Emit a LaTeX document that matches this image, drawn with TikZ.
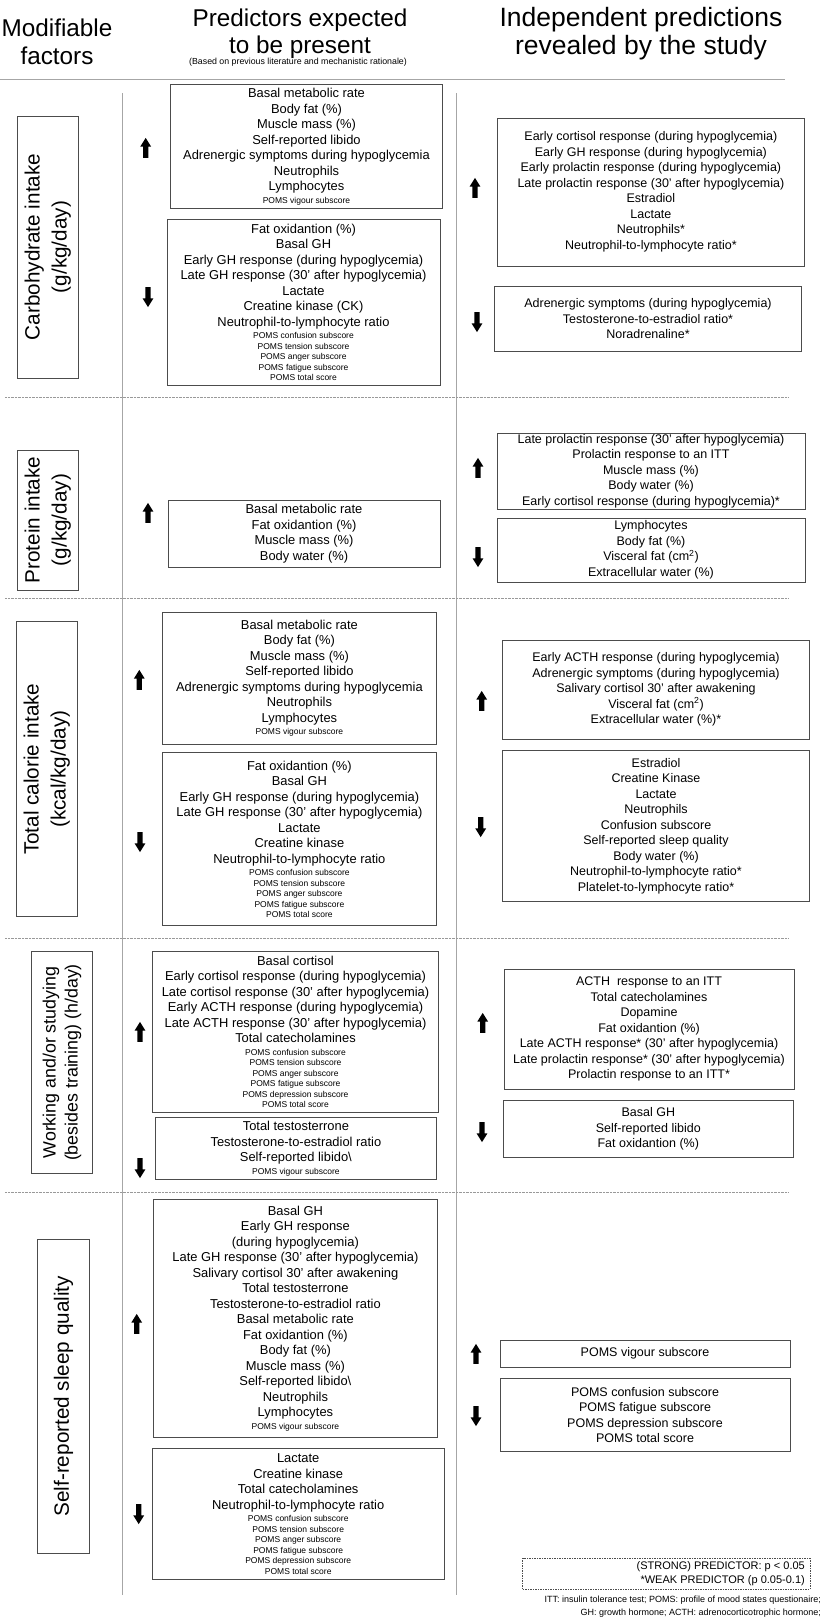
\documentclass[tikz,border=0pt]{standalone}
\usepackage{fontspec}
\setmainfont{Liberation Sans}
\usetikzlibrary{shapes.arrows,positioning}

\newcommand{\sm}{\fontsize{8.5}{10.5}\selectfont}

\tikzset{
  factbox/.style={draw=black!70, line width=0.9pt, inner sep=0pt, rotate=90, align=center,
    font=\fontsize{20.7}{27}\selectfont},
  predbox/.style={draw=black!70, line width=0.9pt, inner sep=0pt, align=center,
    font=\fontsize{12.9}{15.5}\selectfont},
  studybox/.style={predbox, font=\fontsize{12.5}{15.5}\selectfont},
  uparr/.style={single arrow, fill=black, draw=none, rotate=90, minimum height=20pt,
    inner sep=2.4pt, single arrow head extend=2.8pt, single arrow tip angle=64},
  downarr/.style={uparr, rotate=180},
  header/.style={align=center, font=\fontsize{24.3}{27}\selectfont},
  colsep/.style={draw=black!35, line width=1pt},
  rowsep/.style={draw=black!40, line width=0.6pt, dash pattern=on 0.6pt off 0.8pt},
}

\begin{document}
\begin{tikzpicture}[x=1pt, y=-1pt]
\useasboundingbox (0,0) rectangle (822,1623);

% headers
\node[header, font=\fontsize{24.3}{28}\selectfont] (hmod) at (57,42) {Modifiable\\factors};
\node[header] (hexp) at (300,33.5) {Predictors expected\\to be present};
\node[font=\fontsize{8.8}{10}\selectfont] (hnote) at (298,62) {(Based on previous literature and mechanistic rationale)};
\node[header, font=\fontsize{26.5}{28}\selectfont] (hind) at (641,33.5) {Independent predictions\\revealed by the study};
\draw[colsep] (0,79) -- (785,79);

% column and row separators
\draw[colsep] (122,93) -- (122,1595);
\draw[colsep] (456,93) -- (456,1595);
\draw[rowsep] (5,397) -- (788,397);
\draw[rowsep] (5,598) -- (788,598);
\draw[rowsep] (5,938) -- (788,938);
\draw[rowsep] (5,1192) -- (788,1192);

% carbohydrate intake
\node[factbox, minimum width=262pt, minimum height=61pt] (fcarb) at (47.8,247) {Carbohydrate intake\\(g/kg/day)};
\node[predbox, minimum width=271.6pt, minimum height=123.6pt] (carbup) at (306.5,146.5)
  {Basal metabolic rate\\Body fat (\%)\\Muscle mass (\%)\\Self-reported libido\\Adrenergic symptoms during hypoglycemia\\Neutrophils\\Lymphocytes\\[-3pt]\sm POMS vigour subscore};
\node[predbox, minimum width=273pt, minimum height=166.7pt] (carbdown) at (303.5,302.4)
  {Fat oxidantion (\%)\\Basal GH\\Early GH response (during hypoglycemia)\\Late GH response (30' after hypoglycemia)\\Lactate\\Creatine kinase (CK)\\Neutrophil-to-lymphocyte ratio\\[-3pt]\sm POMS confusion subscore\\[-5pt]\sm POMS tension subscore\\[-5pt]\sm POMS anger subscore\\[-5pt]\sm POMS fatigue subscore\\[-5pt]\sm POMS total score};
\node[uparr] (carbupa) at (145.7,150) {};
\node[downarr] (carbdowna) at (148,295) {};
\node[studybox, minimum width=306.3pt, minimum height=148pt] (carbres) at (650.9,192)
  {Early cortisol response (during hypoglycemia)\\Early GH response (during hypoglycemia)\\Early prolactin response (during hypoglycemia)\\Late prolactin response (30' after hypoglycemia)\\Estradiol\\Lactate\\Neutrophils*\\Neutrophil-to-lymphocyte ratio*};
\node[studybox, minimum width=306.6pt, minimum height=65.7pt] (carbresd) at (648,318.9)
  {Adrenergic symptoms (during hypoglycemia)\\Testosterone-to-estradiol ratio*\\Noradrenaline*};
\node[uparr] (carbresa) at (475,190) {};
\node[downarr] (carbresda) at (477,320) {};

% protein intake
\node[factbox, minimum width=140pt, minimum height=61pt] (fprot) at (47.8,520) {Protein intake\\(g/kg/day)};
\node[predbox, minimum width=272pt, minimum height=67pt] (protup) at (304,533.5)
  {Basal metabolic rate\\Fat oxidantion (\%)\\Muscle mass (\%)\\Body water (\%)};
\node[uparr] (protupa) at (148,515) {};
\node[studybox, minimum width=308pt, minimum height=76pt] (protres) at (651,471)
  {Late prolactin response (30' after hypoglycemia)\\Prolactin response to an ITT\\Muscle mass (\%)\\Body water (\%)\\Early cortisol response (during hypoglycemia)*};
\node[studybox, minimum width=308pt, minimum height=64pt] (protresd) at (651,550)
  {Lymphocytes\\Body fat (\%)\\Visceral fat (cm\textsuperscript{2})\\Extracellular water (\%)};
\node[uparr] (protresa) at (478,470) {};
\node[downarr] (protresda) at (478,555) {};

% total calorie intake
\node[factbox, minimum width=295pt, minimum height=61.3pt] (fcal) at (46.7,769.2) {Total calorie intake\\(kcal/kg/day)};
\node[predbox, minimum width=274.7pt, minimum height=132.3pt] (calup) at (299.4,678.2)
  {Basal metabolic rate\\Body fat (\%)\\Muscle mass (\%)\\Self-reported libido\\Adrenergic symptoms during hypoglycemia\\Neutrophils\\Lymphocytes\\[-3pt]\sm POMS vigour subscore};
\node[predbox, minimum width=274.7pt, minimum height=173pt] (caldown) at (299.4,839.2)
  {Fat oxidantion (\%)\\Basal GH\\Early GH response (during hypoglycemia)\\Late GH response (30' after hypoglycemia)\\Lactate\\Creatine kinase\\Neutrophil-to-lymphocyte ratio\\[-3pt]\sm POMS confusion subscore\\[-5pt]\sm POMS tension subscore\\[-5pt]\sm POMS anger subscore\\[-5pt]\sm POMS fatigue subscore\\[-5pt]\sm POMS total score};
\node[uparr] (calupa) at (139.3,682) {};
\node[downarr] (caldowna) at (140,840) {};
\node[studybox, minimum width=306.6pt, minimum height=99pt] (calres) at (656,689.5)
  {Early ACTH response (during hypoglycemia)\\Adrenergic symptoms (during hypoglycemia)\\Salivary cortisol 30' after awakening\\Visceral fat (cm\textsuperscript{2})\\Extracellular water (\%)*};
\node[studybox, minimum width=306.6pt, minimum height=151pt] (calresd) at (656,826.2)
  {Estradiol\\Creatine Kinase\\Lactate\\Neutrophils\\Confusion subscore\\Self-reported sleep quality\\Body water (\%)\\Neutrophil-to-lymphocyte ratio*\\Platelet-to-lymphocyte ratio*};
\node[uparr] (calresa) at (481.7,703) {};
\node[downarr] (calresda) at (480.7,825) {};

% working and/or studying
\node[factbox, minimum width=221.6pt, minimum height=60.6pt, font=\fontsize{17.8}{22}\selectfont] (fwork) at (62,1062.5) {Working and/or studying\\(besides training) (h/day)};
\node[predbox, minimum width=285.6pt, minimum height=160.6pt] (workup) at (295.5,1032)
  {Basal cortisol\\Early cortisol response (during hypoglycemia)\\Late cortisol response (30' after hypoglycemia)\\Early ACTH response (during hypoglycemia)\\Late ACTH response (30' after hypoglycemia)\\Total catecholamines\\[-3pt]\sm POMS confusion subscore\\[-5pt]\sm POMS tension subscore\\[-5pt]\sm POMS anger subscore\\[-5pt]\sm POMS fatigue subscore\\[-5pt]\sm POMS depression subscore\\[-5pt]\sm POMS total score};
\node[predbox, minimum width=281.7pt, minimum height=61.6pt] (workdown) at (295.9,1148.5)
  {Total testosterrone\\Testosterone-to-estradiol ratio\\Self-reported libido\textbackslash\\[-3pt]\sm POMS vigour subscore};
\node[uparr] (workupa) at (140,1034) {};
\node[downarr] (workdowna) at (140,1166) {};
\node[studybox, minimum width=290pt, minimum height=119.7pt] (workres) at (649,1029.2)
  {ACTH\ \ response to an ITT\\Total catecholamines\\Dopamine\\Fat oxidantion (\%)\\Late ACTH response* (30' after hypoglycemia)\\Late prolactin response* (30' after hypoglycemia)\\Prolactin response to an ITT*};
\node[studybox, minimum width=290pt, minimum height=57.7pt] (workresd) at (648.3,1128.9)
  {Basal GH\\Self-reported libido\\Fat oxidantion (\%)};
\node[uparr] (workresa) at (482.7,1025) {};
\node[downarr] (workresda) at (482,1130) {};

% self-reported sleep quality
\node[factbox, minimum width=314.3pt, minimum height=51.3pt] (fsleep) at (63.4,1396.2) {Self-reported sleep quality};
\node[predbox, minimum width=283.3pt, minimum height=238pt] (sleepup) at (295.4,1318.3)
  {Basal GH\\Early GH response\\(during hypoglycemia)\\Late GH response (30' after hypoglycemia)\\Salivary cortisol 30' after awakening\\Total testosterrone\\Testosterone-to-estradiol ratio\\Basal metabolic rate\\Fat oxidantion (\%)\\Body fat (\%)\\Muscle mass (\%)\\Self-reported libido\textbackslash\\Neutrophils\\Lymphocytes\\[-3pt]\sm POMS vigour subscore};
\node[predbox, minimum width=292.3pt, minimum height=130.6pt] (sleepdown) at (298.2,1514)
  {Lactate\\Creatine kinase\\Total catecholamines\\Neutrophil-to-lymphocyte ratio\\[-3pt]\sm POMS confusion subscore\\[-5pt]\sm POMS tension subscore\\[-5pt]\sm POMS anger subscore\\[-5pt]\sm POMS fatigue subscore\\[-5pt]\sm POMS depression subscore\\[-5pt]\sm POMS total score};
\node[uparr] (sleepupa) at (136.7,1326) {};
\node[downarr] (sleepdowna) at (138.7,1512) {};
\node[studybox, minimum width=290pt, minimum height=27.3pt] (sleepres) at (645,1353.7)
  {POMS vigour subscore};
\node[studybox, minimum width=290pt, minimum height=72.3pt] (sleepresd) at (645,1414.9)
  {POMS confusion subscore\\POMS fatigue subscore\\POMS depression subscore\\POMS total score};
\node[uparr] (sleepresa) at (476,1356) {};
\node[downarr] (sleepresda) at (476,1414) {};

% legend and abbreviations
\node[draw=black!70, line width=0.6pt, dash pattern=on 1.5pt off 1pt, minimum width=287.3pt, minimum height=31pt] (legend) at (666.4,1573.8) {};
\node[align=right, anchor=east, font=\fontsize{11}{14}\selectfont, inner sep=0pt] (legtext) at (805,1573.8)
  {(STRONG) PREDICTOR: p < 0.05\\*WEAK PREDICTOR (p 0.05-0.1)};
\node[align=right, anchor=north east, font=\fontsize{9}{12.5}\selectfont, inner sep=0pt] (abbrev) at (821,1596)
  {ITT: insulin tolerance test; POMS: profile of mood states questionaire;\\GH: growth hormone; ACTH: adrenocorticotrophic hormone;};
\end{tikzpicture}
\end{document}
